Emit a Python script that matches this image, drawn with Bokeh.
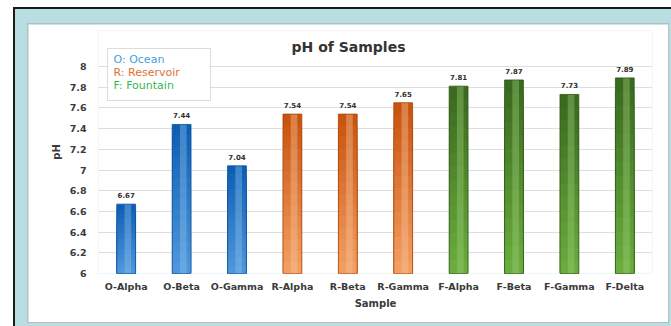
from bokeh.plotting import figure
from bokeh.layouts import column
from bokeh.models import (ColumnDataSource, FactorRange, Range1d, BoxAnnotation,
                          Label, FixedTicker)
from bokeh.core.properties import value
from bokeh.transform import dodge
from bokeh.embed import file_html
from bokeh.resources import INLINE

# --- data -------------------------------------------------------------
samples = ["O-Alpha", "O-Beta", "O-Gamma", "R-Alpha", "R-Beta", "R-Gamma",
           "F-Alpha", "F-Beta", "F-Gamma", "F-Delta"]
ph_values = [6.67, 7.44, 7.04, 7.54, 7.54, 7.65, 7.81, 7.87, 7.73, 7.89]
groups = ["O", "O", "O", "R", "R", "R", "F", "F", "F", "F"]
y_ticks = [6, 6.2, 6.4, 6.6, 6.8, 7, 7.2, 7.4, 7.6, 7.8, 8]
legend_lines = ["O: Ocean", "R: Reservoir", "F: Fountain"]

# group palettes: (top shade, bottom shade, highlight, edge)
palette = {
    "O": ("#0e5fb4", "#4f96da", "#8cc0ee", "#0a4f98"),
    "R": ("#c9540f", "#f29e62", "#f8c49c", "#a9460c"),
    "F": ("#3a6a1f", "#6aac3d", "#9ccc78", "#2f5818"),
}
legend_colors = ["#45a0de", "#dc7232", "#36b84e"]

FONT = "DejaVu Sans"
BASE = 6.0
Y_TOP = 8.348

p = figure(width=640, height=298, x_range=FactorRange(*samples, range_padding=0),
           y_range=Range1d(BASE, Y_TOP), output_backend="svg", toolbar_location=None,
           min_border_left=70, min_border_right=16, min_border_top=6,
           min_border_bottom=49, title=None)
p.outline_line_color = None
p.border_fill_color = "white"
p.background_fill_color = "white"
p.styles = {"outline": "1px solid #bcbcbc"}

# bars: shading built from overlapping bars of shrinking height,
# darkest (tallest) first so each lighter one covers the lower part
def mix(c1, c2, t):
    a = [int(c1[i:i + 2], 16) for i in (1, 3, 5)]
    b = [int(c2[i:i + 2], 16) for i in (1, 3, 5)]
    return "#%02x%02x%02x" % tuple(round(a[k] + (b[k] - a[k]) * t) for k in range(3))

BAR_W = 0.34
n_steps = 14
xs, tops, cols = [], [], []
for k in range(n_steps):
    frac = 1 - k / n_steps
    for s, v, g in zip(samples, ph_values, groups):
        top_c, bot_c, _, _ = palette[g]
        xs.append(s)
        tops.append(BASE + (v - BASE) * frac)
        cols.append(mix(top_c, bot_c, k / (n_steps - 1)))
p.vbar(x=xs, top=tops, bottom=BASE, width=BAR_W, fill_color=cols, line_color=None)

src = ColumnDataSource(dict(
    x=samples, top=ph_values,
    hi=[palette[g][2] for g in groups],
    edge=[palette[g][3] for g in groups],
    lab=["%.2f" % v for v in ph_values],
))
# soft highlight down the right-centre of each bar
p.vbar(x=dodge("x", 0.03, range=p.x_range), top="top", bottom=BASE, width=0.12,
       source=src, fill_color="hi", fill_alpha=0.4, line_color=None)
# bar edges
p.vbar(x="x", top="top", bottom=BASE, width=BAR_W, source=src, fill_color=None,
       line_color="edge", line_width=1, line_alpha=0.8)

# value labels
p.text(x="x", y="top", text="lab", source=src, text_align="center",
       text_baseline="bottom", y_offset=-6, text_font_size="7px",
       text_font_style="bold", text_color="#303030", text_font=value(FONT))

# axes and grid
p.xgrid.grid_line_color = None
p.ygrid.grid_line_color = "#dedede"
p.ygrid.ticker = FixedTicker(ticks=y_ticks)
p.yaxis.ticker = FixedTicker(ticks=y_ticks)
for ax in (p.xaxis, p.yaxis):
    ax.axis_line_color = None
    ax.major_tick_line_color = None
    ax.minor_tick_line_color = None
    ax.major_tick_out = 0
    ax.minor_tick_out = 0
    ax.major_label_text_font = FONT
    ax.major_label_text_font_size = "9.5px"
    ax.major_label_text_font_style = "bold"
    ax.major_label_text_color = "#3a3a3a"
    ax.axis_label_text_font = FONT
    ax.axis_label_text_font_size = "10px"
    ax.axis_label_text_font_style = "bold"
    ax.axis_label_text_color = "#3a3a3a"
p.yaxis.major_label_standoff = 12
p.yaxis.axis_label = "pH"
p.yaxis.axis_label_standoff = 5
p.xaxis.major_label_standoff = 7
p.xaxis.axis_label = "Sample"
p.xaxis.axis_label_standoff = 3

# title
p.add_layout(Label(x=320, y=22, x_units="canvas", y_units="canvas", text="pH of Samples",
                   text_align="center", text_baseline="alphabetic", text_font=FONT,
                   text_font_size="14px", text_font_style="bold", text_color="#333333"))

# key box
p.add_layout(BoxAnnotation(left=79, top=24, right=182, bottom=76,
                           left_units="canvas", right_units="canvas",
                           top_units="canvas", bottom_units="canvas",
                           fill_color="white", fill_alpha=1.0,
                           line_color="#8a8a8a", line_width=1))
for i, (txt, col) in enumerate(zip(legend_lines, legend_colors)):
    p.add_layout(Label(x=85, y=35 + 13 * i, x_units="canvas", y_units="canvas",
                       text=txt, text_align="left", text_baseline="middle",
                       text_font=FONT, text_font_size="11px",
                       text_color=col))

# page frame: dark edge and teal mat around the chart panel
page = column(p, styles={
    "margin-left": "13px", "margin-top": "7px",
    "border-left": "2px solid #1a1a1a", "border-top": "2px solid #1a1a1a",
    "background-color": "#b9dee2",
    "padding": "15px 3px 4px 13px",
})

open("out.html", "w").write(file_html(page, INLINE))
